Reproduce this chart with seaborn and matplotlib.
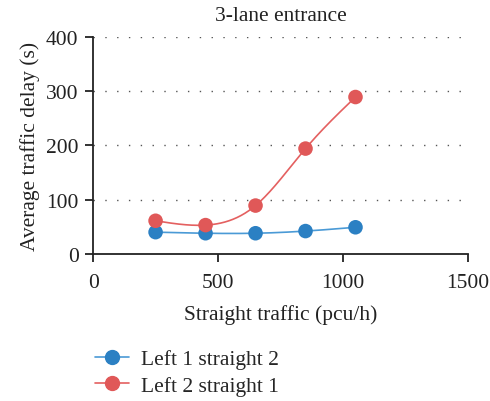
import numpy as np
import pandas as pd
import seaborn as sns
import matplotlib.pyplot as plt
from matplotlib.lines import Line2D

sns.set_theme(style="white")
plt.rcParams['font.family'] = ['Liberation Serif', 'DejaVu Serif']

straight_traffic = [250, 450, 650, 850, 1050]
left1_straight2 = [40, 38, 38, 42, 49]
left2_straight1 = [61, 53, 89, 194, 289]

series_names = ["Left 1 straight 2", "Left 2 straight 1"]
series_values = [left1_straight2, left2_straight1]
colors = ["#2b80c3", "#e05858"]
line_colors = ["#4a9ad6", "#e46060"]

x_ticks = [0, 500, 1000, 1500]
y_ticks = [0, 100, 200, 300, 400]

df = pd.concat(
    [pd.DataFrame({"traffic": straight_traffic, "delay": v, "series": n})
     for n, v in zip(series_names, series_values)],
    ignore_index=True,
)


def natural_spline(x, y, n=200):
    """Natural cubic spline through the given points, for a smooth connecting curve."""
    x = np.asarray(x, float)
    y = np.asarray(y, float)
    k = len(x)
    h = np.diff(x)
    A = np.zeros((k, k))
    b = np.zeros(k)
    A[0, 0] = A[-1, -1] = 1
    for i in range(1, k - 1):
        A[i, i - 1] = h[i - 1]
        A[i, i] = 2 * (h[i - 1] + h[i])
        A[i, i + 1] = h[i]
        b[i] = 3 * ((y[i + 1] - y[i]) / h[i] - (y[i] - y[i - 1]) / h[i - 1])
    c = np.linalg.solve(A, b)
    xs = np.linspace(x[0], x[-1], n)
    ys = np.empty_like(xs)
    for j, xv in enumerate(xs):
        i = min(np.searchsorted(x, xv, side="right") - 1, k - 2)
        dx = xv - x[i]
        bi = (y[i + 1] - y[i]) / h[i] - h[i] * (c[i + 1] + 2 * c[i]) / 3
        di = (c[i + 1] - c[i]) / (3 * h[i])
        ys[j] = y[i] + bi * dx + c[i] * dx ** 2 + di * dx ** 3
    return xs, ys


FS = 15.5
fig = plt.figure(figsize=(4.9, 4.02), dpi=100)
ax = fig.add_axes([0.19, 0.366, 0.765, 0.54])

for y in y_ticks[1:]:
    ax.axhline(y, color="#555555", lw=1.0, ls=(0, (1, 7.5)), zorder=0)

for name, col, lcol in zip(series_names, colors, line_colors):
    sub = df[df["series"] == name]
    xs, ys = natural_spline(sub["traffic"], sub["delay"])
    ax.plot(xs, ys, color=lcol, lw=1.2, zorder=2)
    sns.scatterplot(data=sub, x="traffic", y="delay", color=col, s=110,
                    edgecolor="none", ax=ax, zorder=3, legend=False)

ax.set_xlim(0, 1500)
ax.set_ylim(0, 400)
ax.set_xticks(x_ticks)
ax.set_yticks(y_ticks)
for s in ["top", "right"]:
    ax.spines[s].set_visible(False)
for s in ["left", "bottom"]:
    ax.spines[s].set_color("#222222")
    ax.spines[s].set_linewidth(1.3)
ax.tick_params(axis="both", direction="out", length=5.5, width=1.3, color="#222222",
               labelsize=FS, labelcolor="#222222", bottom=True, left=True)
ax.tick_params(axis="x", pad=8)
ax.tick_params(axis="y", pad=5)
ax.set_xlabel("Straight traffic (pcu/h)", fontsize=FS, color="#222222", labelpad=9)
ax.set_ylabel("Average traffic delay (s)", fontsize=FS, color="#222222", labelpad=4)
ax.set_title("3-lane entrance", fontsize=FS, color="#222222", pad=12)

handles = [Line2D([0], [0], color=lc, lw=1.2, marker="o", markersize=10,
                  markerfacecolor=c, markeredgecolor=c)
           for c, lc in zip(colors, line_colors)]
fig.legend(handles, series_names, loc="upper left", bbox_to_anchor=(0.177, 0.15),
           frameon=False, fontsize=FS, handlelength=1.55, handletextpad=0.55,
           labelspacing=0.3, borderaxespad=0)

fig.savefig("out.png", dpi=100)
